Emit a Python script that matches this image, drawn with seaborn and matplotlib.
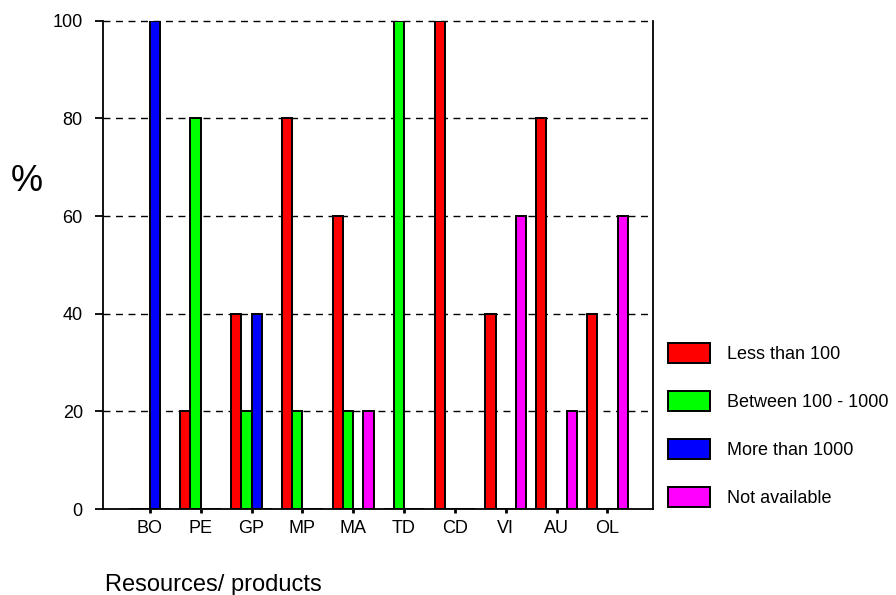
import pandas as pd
import matplotlib
matplotlib.use("Agg")
import matplotlib.pyplot as plt
import seaborn as sns

'''DATA'''
categories = ['BO', 'PE', 'GP', 'MP', 'MA', 'TD', 'CD', 'VI', 'AU', 'OL']
series_names = ['Less than 100', 'Between 100 - 1000', 'More than 1000', 'Not available']
less_100 = [0, 20, 40, 80, 60, 0, 100, 40, 80, 40]
between_100_1000 = [0, 80, 20, 20, 20, 100, 0, 0, 0, 0]
more_1000 = [100, 0, 40, 0, 0, 0, 0, 0, 0, 0]
not_available = [0, 0, 0, 0, 20, 0, 0, 60, 20, 60]
colors = ['#ff0000', '#00ff00', '#0000ff', '#ff00ff']

# long table for seaborn
rows = []
for name, vals in zip(series_names, [less_100, between_100_1000, more_1000, not_available]):
    for c, v in zip(categories, vals):
        rows.append({'cat': c, 'group': name, 'pct': v})
df = pd.DataFrame(rows)

sns.set_style('white')
plt.rcParams['font.family'] = ['Liberation Sans', 'DejaVu Sans']
plt.rcParams['text.color'] = 'black'
plt.rcParams['xtick.color'] = 'black'
plt.rcParams['ytick.color'] = 'black'

fig = plt.figure(figsize=(8.96, 5.95), dpi=100)
ax = fig.add_axes([0.115, 0.1445, 0.614, 0.8205])

sns.barplot(data=df, x='cat', y='pct', hue='group', hue_order=series_names,
            palette=colors, order=categories, width=0.8, edgecolor='black',
            linewidth=1.4, saturation=1, errorbar=None, ax=ax)

ax.set_xlim(-0.92, 9.9)
ax.set_ylim(0, 100)
ax.set_yticks([0, 20, 40, 60, 80, 100])
for y in [20, 40, 60, 80, 100]:
    ax.axhline(y, color='black', linestyle=(0, (5, 4)), linewidth=1.0, zorder=0, clip_on=False)

ax.spines['top'].set_visible(False)
for s in ['left', 'right', 'bottom']:
    ax.spines[s].set_visible(True)
    ax.spines[s].set_color('black')
    ax.spines[s].set_linewidth(1.3)

ax.tick_params(axis='y', direction='out', length=6, width=1.3, labelsize=13, pad=8.6, left=True)
ax.tick_params(axis='x', direction='out', length=3, width=2, labelsize=13, pad=5, bottom=True)

ax.set_xlabel('')
ax.set_ylabel('')
fig.text(0.012, 0.695, '%', fontsize=26, va='center', ha='left')
fig.text(0.117, 0.006, 'Resources/ products', fontsize=17, ha='left', va='baseline')

handles, labels = ax.get_legend_handles_labels()
ax.legend(handles, labels, loc='center left', bbox_to_anchor=(0.997, 0.172),
          frameon=False, fontsize=13, handlelength=2.33, handleheight=1.3,
          labelspacing=1.55, handletextpad=0.95)

fig.savefig('out.png', dpi=100)
